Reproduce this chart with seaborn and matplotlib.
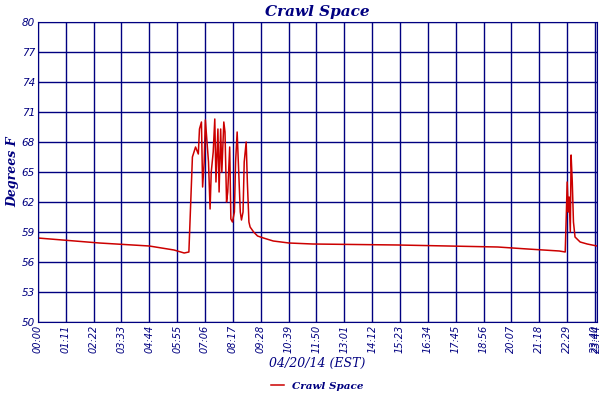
import matplotlib
matplotlib.use("Agg")
import matplotlib.pyplot as plt
import seaborn as sns
import pandas as pd

minutes = [0,157,284,347,373,385,394,402,409,412,417,420,424,427,435,439,442,447,451,454,459,462,466,469,474,477,481,484,489,492,496,501,504,508,511,516,519,523,526,531,534,538,541,550,560,575,600,640,700,918,1172,1248,1329,1344,1347,1349,1352,1354,1357,1359,1362,1365,1369,1382,1400,1425]
temps = [58.4,57.9,57.6,57.2,56.9,57.0,66.5,67.5,66.8,69.3,70.0,63.5,66.0,70.2,66.0,61.3,65.0,67.0,70.3,64.0,69.3,63.0,69.3,65.0,70.0,69.0,62.0,63.0,67.5,60.3,60.0,61.0,66.0,69.0,66.0,61.0,60.2,61.0,66.0,68.0,64.0,60.0,59.5,59.0,58.6,58.4,58.1,57.9,57.8,57.7,57.5,57.3,57.1,57.0,61.0,64.0,61.0,62.5,59.0,66.7,64.0,60.0,58.5,58.0,57.8,57.6]
yticks = [50,53,56,59,62,65,68,71,74,77,80]
xtick_pos = [i*71 for i in range(21)] + [1425]
xtick_labels = ["00:00","01:11","02:22","03:33","04:44","05:55","07:06","08:17","09:28","10:39","11:50","13:01","14:12","15:23","16:34","17:45","18:56","20:07","21:18","22:29","23:40","23:44"]

navy = "#000080"
df = pd.DataFrame({"t": minutes, "temp": temps})
fig = plt.figure(figsize=(6, 4), dpi=100)
ax = fig.add_axes([0.063, 0.195, 0.932, 0.75])
sns.lineplot(data=df, x="t", y="temp", ax=ax, color="#cc0000", lw=1.1, label="Crawl Space")
ax.set_xlim(0, 1425)
ax.set_ylim(50, 80)
ax.set_yticks(yticks)
ax.set_xticks(xtick_pos)
ax.set_xticklabels(xtick_labels, rotation=90, fontsize=7, color=navy, style="italic")
ax.set_yticklabels([str(v) for v in yticks], fontsize=7.5, color=navy, style="italic")
ax.grid(True, color=navy, lw=1)
ax.tick_params(length=0, pad=2)
for s in ax.spines.values():
    s.set_color(navy)
ax.set_title("Crawl Space", fontsize=11, color=navy, style="italic", fontweight="bold", family="DejaVu Serif", pad=4)
ax.set_ylabel("Degrees F", fontsize=9, color=navy, style="italic", fontweight="bold", family="DejaVu Serif", labelpad=2)
ax.set_xlabel("04/20/14 (EST)", fontsize=9, color=navy, style="italic", family="DejaVu Serif", labelpad=3)
ax.legend(loc="upper center", bbox_to_anchor=(0.5, -0.175), frameon=False, prop={"family": "DejaVu Serif", "style": "italic", "weight": "bold", "size": 7.5}, handlelength=1.2, labelcolor=navy, borderpad=0.2)
fig.savefig("out.png", dpi=100, facecolor="white")
